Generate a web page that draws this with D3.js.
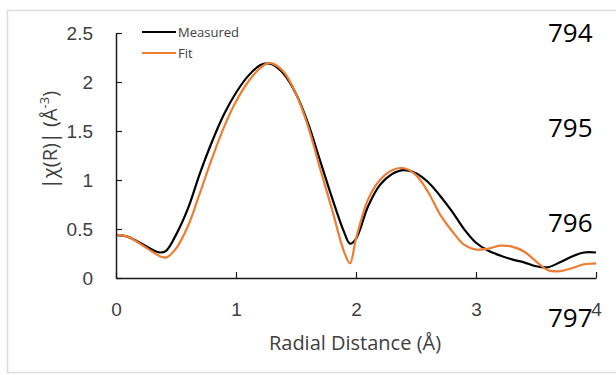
<!DOCTYPE html>
<html>
<head>
<meta charset="utf-8">
<script src="https://cdn.jsdelivr.net/npm/d3@7"></script>
<style>
    body { margin: 0; background: #fff; }
    svg { display: block; font-family: "Open Sans", "Noto Sans", sans-serif; }
</style>
</head>
<body>
<div id="draw_here"></div>
<script type="text/javascript">
    // Data
    r_values = [0, 0.1, 0.2, 0.3, 0.37, 0.42, 0.5, 0.6, 0.7, 0.8, 0.9, 1.0, 1.1, 1.2, 1.26, 1.3, 1.4, 1.5, 1.6, 1.7, 1.8, 1.9, 1.95, 2.0, 2.1, 2.2, 2.3, 2.4, 2.5, 2.6, 2.7, 2.8, 2.9, 3.0, 3.1, 3.2, 3.3, 3.4, 3.5, 3.6, 3.7, 3.8, 3.9, 4.0]
    measured = [0.44, 0.42, 0.36, 0.29, 0.26, 0.28, 0.44, 0.71, 1.07, 1.39, 1.67, 1.89, 2.06, 2.17, 2.19, 2.18, 2.08, 1.88, 1.58, 1.20, 0.82, 0.47, 0.35, 0.40, 0.73, 0.95, 1.06, 1.10, 1.07, 0.98, 0.84, 0.68, 0.50, 0.36, 0.28, 0.23, 0.19, 0.16, 0.12, 0.11, 0.16, 0.22, 0.26, 0.26]
    fit = [0.44, 0.42, 0.35, 0.27, 0.22, 0.21, 0.30, 0.53, 0.87, 1.22, 1.54, 1.80, 2.00, 2.14, 2.19, 2.19, 2.10, 1.88, 1.55, 1.12, 0.70, 0.27, 0.15, 0.40, 0.80, 1.00, 1.10, 1.12, 1.05, 0.88, 0.65, 0.48, 0.34, 0.29, 0.30, 0.33, 0.32, 0.27, 0.17, 0.08, 0.07, 0.10, 0.14, 0.15]
    x_ticks = [0, 1, 2, 3, 4]
    y_ticks = [0, 0.5, 1, 1.5, 2, 2.5]
    series_names = ["Measured", "Fit"]
    line_numbers = ["794", "795", "796", "797"]

    canvas = ({width: 616, height: 375})
    margin = ({top: 33, right: 20, bottom: 97, left: 116})
    black = "#000000"
    orange = "#ed7d31"
    axis_col = "#1a1a1a"
    label_col = "#404040"

    x = d3.scaleLinear()
        .domain([0, 4])
        .range([margin.left, 596])

    y = d3.scaleLinear()
        .domain([0, 2.5])
        .range([canvas.height - margin.bottom, margin.top])

    var svg = d3.select("div#draw_here").append("svg")
        .attr("width", canvas.width)
        .attr("height", canvas.height)
        .attr("viewBox", [0, 0, canvas.width, canvas.height]);

    // faint frame of the pasted figure
    svg.append("rect")
        .attr("x", 7.5).attr("y", 10.5)
        .attr("width", 640).attr("height", 362)
        .attr("fill", "none")
        .attr("stroke", "#dcdcdc")
        .attr("stroke-width", 1.5)

    xAxis = g => g
        .attr("transform", `translate(0,${y(0)})`)
        .call(d3.axisBottom(x).tickValues(x_ticks).tickFormat(d3.format("d"))
            .tickSizeInner(-6).tickSizeOuter(0).tickPadding(25))
        .call(g => g.select(".domain").attr("stroke", axis_col).attr("stroke-width", 1.5))
        .call(g => g.selectAll(".tick line").attr("stroke", axis_col).attr("stroke-width", 1.2))
        .call(g => g.selectAll(".tick text").attr("fill", label_col).attr("font-size", 19))

    yAxis = g => g
        .attr("transform", `translate(${x(0)},0)`)
        .call(d3.axisLeft(y).tickValues(y_ticks).tickFormat(d => d)
            .tickSizeInner(-6).tickSizeOuter(0).tickPadding(23))
        .call(g => g.select(".domain").attr("stroke", axis_col).attr("stroke-width", 1.5))
        .call(g => g.selectAll(".tick line").attr("stroke", axis_col).attr("stroke-width", 1.2))
        .call(g => g.selectAll(".tick text").attr("fill", label_col).attr("font-size", 19))

    line = d3.line()
        .curve(d3.curveCatmullRom.alpha(0.5))
        .x((d, i) => x(r_values[i]))
        .y(d => y(d))

    svg.append("path")
        .attr("fill", "none")
        .attr("stroke", black)
        .attr("stroke-width", 2.2)
        .attr("stroke-linejoin", "round")
        .attr("d", line(measured));

    svg.append("path")
        .attr("fill", "none")
        .attr("stroke", orange)
        .attr("stroke-width", 2.2)
        .attr("stroke-linejoin", "round")
        .attr("d", line(fit));

    svg.append("g").call(xAxis);
    svg.append("g").call(yAxis);

    // Axis titles
    svg.append("text")
        .attr("x", 355)
        .attr("y", 350)
        .attr("text-anchor", "middle")
        .attr("fill", label_col)
        .attr("font-size", 20)
        .text("Radial Distance (Å)")

    var ytitle = svg.append("text")
        .attr("transform", "translate(57,140) rotate(-90)")
        .attr("text-anchor", "middle")
        .attr("fill", label_col)
        .attr("font-size", 20)
    ytitle.append("tspan").text("|χ(R)| (Å")
    ytitle.append("tspan").attr("font-size", 13).attr("dy", -8).text("-3")
    ytitle.append("tspan").attr("dy", 8).text(")")

    // Legend
    legend = svg.append("g")
    series_names.forEach((name, i) => {
        legend.append("line")
            .attr("x1", 142).attr("x2", 176)
            .attr("y1", 32 + i * 21).attr("y2", 32 + i * 21)
            .attr("stroke", i == 0 ? black : orange)
            .attr("stroke-width", 2.2)
        legend.append("text")
            .attr("x", 178)
            .attr("y", 32 + i * 21)
            .attr("dy", "0.35em")
            .attr("fill", label_col)
            .attr("font-size", 13)
            .text(name)
    })

    // stray line numbers on the page
    svg.selectAll(".lineno")
        .data(line_numbers)
        .enter().append("text")
        .attr("class", "lineno")
        .attr("x", 548)
        .attr("y", (d, i) => 42 + i * 95)
        .attr("fill", "#000")
        .attr("font-size", 26)
        .text(d => d)
</script>
</body>
</html>
